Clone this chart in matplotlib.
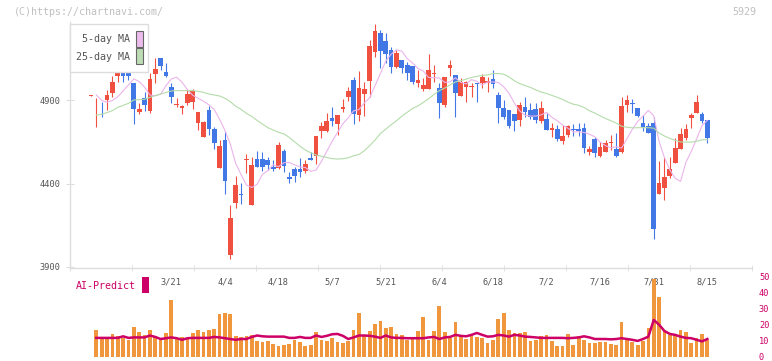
import numpy as np
import pandas as pd
import matplotlib
matplotlib.use("Agg")
import matplotlib.pyplot as plt
from matplotlib.patches import Rectangle

# ---------------- data ----------------
opens = [4926, 4862, 4866, 4900, 4944, 5044, 5100, 5100, 5000, 4830,
         4914, 4834, 5056, 5153, 5070, 4980, 4872, 4850, 4884, 4890,
         4764, 4680, 4840, 4726, 4495, 4660, 3972, 4281, 4338, 4540,
         4271, 4547, 4547, 4541, 4500, 4495, 4596, 4441, 4487, 4487,
         4477, 4555, 4565, 4716, 4716, 4790, 4758, 4844, 4920, 5020,
         4812, 4936, 5014, 5189, 5303, 5253, 5199, 5099, 5140, 5110,
         5104, 5004, 4966, 4966, 5054, 4970, 4870, 5094, 5050, 4924,
         4976, 4976, 5004, 5000, 5000, 5024, 4930, 4854, 4840, 4816,
         4780, 4856, 4840, 4846, 4774, 4784, 4722, 4726, 4656, 4690,
         4728, 4726, 4731, 4590, 4666, 4567, 4590, 4644, 4607, 4590,
         4870, 4884, 4850, 4764, 4744, 4760, 4337, 4371, 4445, 4525,
         4607, 4674, 4794, 4824, 4816, 4780]
highs = [4930, 4914, 4890, 4960, 5044, 5110, 5170, 5150, 5000, 4880,
         4950, 5060, 5150, 5153, 5123, 5000, 4910, 4870, 4964, 4964,
         4830, 4776, 4864, 4736, 4660, 4714, 4271, 4445, 4401, 4577,
         4557, 4595, 4590, 4557, 4541, 4647, 4605, 4471, 4501, 4554,
         4541, 4587, 4684, 4770, 4820, 4860, 4810, 4906, 4980, 5036,
         5074, 5010, 5259, 5355, 5319, 5299, 5215, 5199, 5140, 5130,
         5104, 5080, 5030, 5175, 5110, 5004, 5036, 5140, 5050, 5030,
         5016, 5004, 5004, 5056, 5040, 5080, 4950, 4900, 4840, 4816,
         4890, 4920, 4884, 4884, 4896, 4824, 4760, 4750, 4750, 4750,
         4756, 4760, 4760, 4625, 4680, 4650, 4660, 4690, 4700, 4916,
         4930, 4904, 4850, 4810, 4764, 4800, 4536, 4560, 4560, 4674,
         4734, 4754, 4820, 4930, 4830, 4780]
lows = [4926, 4740, 4800, 4840, 4920, 5010, 5010, 5020, 4756, 4815,
        4836, 4820, 5000, 5080, 5036, 4884, 4856, 4816, 4870, 4844,
        4720, 4676, 4690, 4605, 4491, 4337, 3946, 4255, 4277, 4465,
        4271, 4497, 4477, 4481, 4475, 4487, 4471, 4405, 4411, 4441,
        4465, 4541, 4517, 4671, 4710, 4744, 4690, 4830, 4894, 4756,
        4774, 4804, 4916, 5159, 5090, 5120, 5063, 5093, 5063, 5020,
        4996, 4980, 4956, 4966, 5010, 4794, 4856, 5044, 4800, 4924,
        4890, 4916, 4890, 4970, 4950, 4970, 4764, 4784, 4730, 4716,
        4744, 4800, 4784, 4760, 4760, 4720, 4680, 4656, 4637, 4680,
        4684, 4684, 4581, 4571, 4560, 4560, 4590, 4600, 4560, 4581,
        4830, 4820, 4796, 4716, 4700, 4066, 4337, 4301, 4431, 4525,
        4607, 4660, 4730, 4824, 4760, 4640]
closes = [4930, 4866, 4862, 4930, 5006, 5110, 5044, 5044, 4846, 4844,
          4870, 5026, 5086, 5104, 5045, 4920, 4876, 4864, 4936, 4956,
          4830, 4770, 4725, 4641, 4625, 4417, 4195, 4391, 4330, 4548,
          4511, 4497, 4497, 4509, 4489, 4630, 4505, 4425, 4447, 4471,
          4517, 4543, 4684, 4746, 4776, 4774, 4810, 4860, 4954, 4816,
          4970, 4966, 5223, 5313, 5193, 5174, 5099, 5183, 5090, 5064,
          5010, 5020, 4990, 5080, 5058, 4880, 5036, 5110, 4944, 5010,
          5010, 4984, 4998, 5036, 5012, 4996, 4854, 4800, 4746, 4774,
          4870, 4830, 4800, 4780, 4850, 4720, 4732, 4666, 4684, 4744,
          4722, 4712, 4614, 4607, 4584, 4617, 4644, 4648, 4567, 4864,
          4900, 4878, 4806, 4740, 4704, 4126, 4401, 4437, 4487, 4614,
          4696, 4726, 4810, 4886, 4774, 4674]

# 25-day MA at the start of the window (window incomplete)
ma25_head = [np.nan, 4810, 4814, 4825, 4836, 4856, 4868, 4880, 4900, 4902,
             4904, 4916, 4926, 4936, 4945, 4954, 4956, 4956, 4956, 4956,
             4952, 4946, 4936, 4930, 4924]

volume = [np.nan, 16.7, 11.7, 11.7, 14.2, 13.0, 11.7, 10.5, 18.5, 15.4,
          13.6, 16.7, 13.0, 10.5, 14.8, 35.8, 10.9, 12.3, 11.7, 14.8,
          16.7, 15.4, 16.7, 17.3, 26.5, 27.2, 26.5, 13.0, 12.3, 13.0,
          13.6, 9.9, 9.3, 9.9, 8.0, 6.8, 7.4, 8.0, 10.5, 9.3,
          6.8, 7.4, 15.4, 10.5, 9.9, 11.7, 9.3, 8.6, 9.9, 16.7,
          27.2, 13.0, 16.0, 20.4, 22.2, 17.9, 18.5, 14.2, 13.6, 10.5,
          11.7, 16.0, 24.9, 10.5, 16.0, 31.5, 15.4, 11.7, 21.6, 13.6,
          11.1, 13.6, 12.3, 11.7, 8.6, 10.5, 23.5, 27.2, 16.7, 14.8,
          14.8, 15.4, 9.9, 10.5, 13.0, 13.6, 9.9, 6.8, 6.8, 14.2,
          7.4, 13.0, 10.5, 8.6, 8.6, 9.3, 9.3, 8.0, 7.4, 21.6,
          11.7, 9.3, 7.4, 9.9, 17.9, 48.8, 37.7, 16.7, 13.6, 14.2,
          16.7, 15.4, 8.6, 11.7, 14.2, 10.5]

ai_predict = [np.nan, 11.7, 11.7, 11.7, 11.7, 11.7, 12.7, 11.7, 12.0, 12.0,
              12.0, 13.2, 12.3, 11.0, 11.5, 12.0, 11.5, 10.5, 11.5, 11.7,
              11.7, 11.7, 11.7, 12.3, 12.0, 11.5, 11.0, 10.5, 11.0, 11.0,
              12.3, 13.2, 12.7, 12.5, 12.5, 12.5, 12.5, 11.7, 11.7, 12.3,
              11.7, 11.7, 13.2, 12.3, 13.0, 14.0, 14.2, 13.0, 11.0, 12.0,
              13.2, 13.2, 13.0, 12.5, 11.7, 13.2, 12.0, 11.7, 11.7, 11.5,
              11.5, 11.5, 11.5, 12.0, 12.3, 11.0, 12.0, 12.3, 13.6, 13.0,
              12.7, 13.6, 14.8, 13.6, 12.5, 12.7, 13.6, 13.2, 12.5, 13.6,
              13.2, 12.5, 12.3, 12.0, 11.7, 11.7, 11.7, 11.7, 11.7, 11.5,
              11.7, 12.0, 12.7, 12.0, 11.0, 11.0, 11.0, 10.8, 11.0, 11.5,
              11.0, 10.5, 9.8, 11.0, 12.5, 23.0, 20.0, 16.0, 14.2, 13.6,
              12.5, 11.7, 11.5, 10.5, 9.5, 11.0]

date_labels = ["3/21", "4/4", "4/18", "5/7", "5/21", "6/4", "6/18",
               "7/2", "7/16", "7/31", "8/15"]
date_label_idx = [15, 25, 35, 45, 55, 65, 75, 85, 95, 105, 115]
price_ticks = [3900, 4400, 4900]
ai_ticks = [0, 10, 20, 30, 40, 50]

# ---------------- style ----------------
W, H = 772, 361
RED = "#f05040"
BLUE = "#4178e6"
MA5_C = "#ebb4eb"
MA25_C = "#b4dcaa"
VOL_C = "#f0963c"
AI_C = "#cc0066"
GRID_C = "#dddddd"
TXT_C = "#555555"
MONO = "DejaVu Sans Mono"

fig = plt.figure(figsize=(W / 100, H / 100), dpi=100)
fig.patch.set_facecolor("white")


def rect_px(l, t, r, b):
    return [l / W, 1 - b / H, (r - l) / W, (b - t) / H]


n = len(closes)
x = np.arange(n)
o = np.array(opens, float)
c = np.array(closes, float)
h = np.array(highs, float)
lo = np.array(lows, float)

# x mapping: candle i centre at px 90.94 + 5.36*i
px0, pxs = 90.94, 5.36
xl = ((70 - px0) / pxs, (752 - px0) / pxs)
ax = fig.add_axes(rect_px(70, 22, 752, 268))
ylo = 4900 - (268 - 100) / 0.167
yhi = 4900 + (100 - 22) / 0.167
ax.set_xlim(*xl)
ax.set_ylim(ylo, yhi)
ax.set_facecolor("none")

up = c >= o
cols = np.where(up, RED, BLUE)
ax.vlines(x, lo, h, colors=cols, linewidth=0.8, zorder=2)
body_bot = np.minimum(o, c)
body_h = np.maximum(np.abs(c - o), 5)
ax.bar(x, body_h, bottom=body_bot, width=0.87, color=cols, linewidth=0, zorder=3)

cs = pd.Series(c)
ma5 = cs.rolling(5, min_periods=1).mean().shift(1)
ma25 = cs.rolling(25, min_periods=25).mean().shift(1)
head = np.array(ma25_head, float)
ma25.iloc[:len(head)] = head
ax.plot(x, ma5, color=MA5_C, lw=0.8, zorder=4)
ax.plot(x, ma25, color=MA25_C, lw=0.8, zorder=4)

for s in ["top", "right"]:
    ax.spines[s].set_visible(False)
for s in ["left", "bottom"]:
    ax.spines[s].set_color(GRID_C)
    ax.spines[s].set_linewidth(1.0)

ax.set_yticks(price_ticks)
ax.set_yticklabels([str(v) for v in price_ticks], fontfamily=MONO,
                   fontsize=6.2, color=TXT_C)
ax.tick_params(axis="y", direction="inout", length=6, color=GRID_C, pad=4)
ax.set_xticks(date_label_idx)
ax.set_xticklabels(date_labels, fontfamily=MONO, fontsize=6.2, color=TXT_C)
ax.tick_params(axis="x", which="major", length=0, pad=7)
ax.set_xticks(np.linspace(xl[0], xl[1], 12), minor=True)
ax.tick_params(axis="x", which="minor", direction="inout", length=4,
               color=GRID_C)

# ---------------- volume / AI panel ----------------
axv = fig.add_axes(rect_px(70, 277, 752, 356.5))
axv.set_xlim(*xl)
axv.set_ylim(0, 50)
axv.patch.set_visible(False)
for s in axv.spines.values():
    s.set_visible(False)
axv.bar(x, volume, width=0.69, color=VOL_C, linewidth=0, zorder=2)
axv.plot(x, ai_predict, color=AI_C, lw=1.8, zorder=3)
axv.set_xticks([])
axv.yaxis.tick_right()
axv.set_yticks(ai_ticks)
axv.set_yticklabels([str(v) for v in ai_ticks], fontfamily=MONO,
                    fontsize=6.2, color=AI_C)
axv.tick_params(axis="y", length=0, pad=5)

# ---------------- legends & texts ----------------
def fx(px):
    return px / W


def fy(py):
    return 1 - py / H


fig.add_artist(Rectangle((fx(70), fy(72)), fx(148) - fx(70), fy(24) - fy(72),
                         transform=fig.transFigure, facecolor="white",
                         edgecolor=GRID_C, lw=1.0, zorder=5))
fig.text(fx(130), fy(39.5), "5-day MA", ha="right", va="center",
         fontfamily=MONO, fontsize=7.2, color=TXT_C, zorder=6)
fig.text(fx(130), fy(57), "25-day MA", ha="right", va="center",
         fontfamily=MONO, fontsize=7.2, color=TXT_C, zorder=6)
fig.add_artist(Rectangle((fx(136), fy(47)), fx(142.7) - fx(136), fy(31) - fy(47),
                         transform=fig.transFigure, facecolor="#ecbcec",
                         edgecolor="#666666", lw=0.8, zorder=6))
fig.add_artist(Rectangle((fx(136), fy(63.5)), fx(142.7) - fx(136), fy(48.5) - fy(63.5),
                         transform=fig.transFigure, facecolor="#bedcb4",
                         edgecolor="#666666", lw=0.8, zorder=6))

fig.text(fx(76), fy(286), "AI-Predict", ha="left", va="center",
         fontfamily=MONO, fontsize=7.2, color=AI_C, zorder=6)
fig.add_artist(Rectangle((fx(142), fy(293)), fx(148.7) - fx(142), fy(277) - fy(293),
                         transform=fig.transFigure, facecolor=AI_C,
                         edgecolor="none", zorder=6))

fig.text(fx(14), fy(12), "(C)https://chartnavi.com/", ha="left", va="center",
         fontfamily=MONO, fontsize=7.2, color="#c0c0c0")
fig.text(fx(756), fy(12), "5929", ha="right", va="center",
         fontfamily=MONO, fontsize=7.2, color="#c0c0c0")

fig.savefig("out.png", dpi=100, facecolor="white")
